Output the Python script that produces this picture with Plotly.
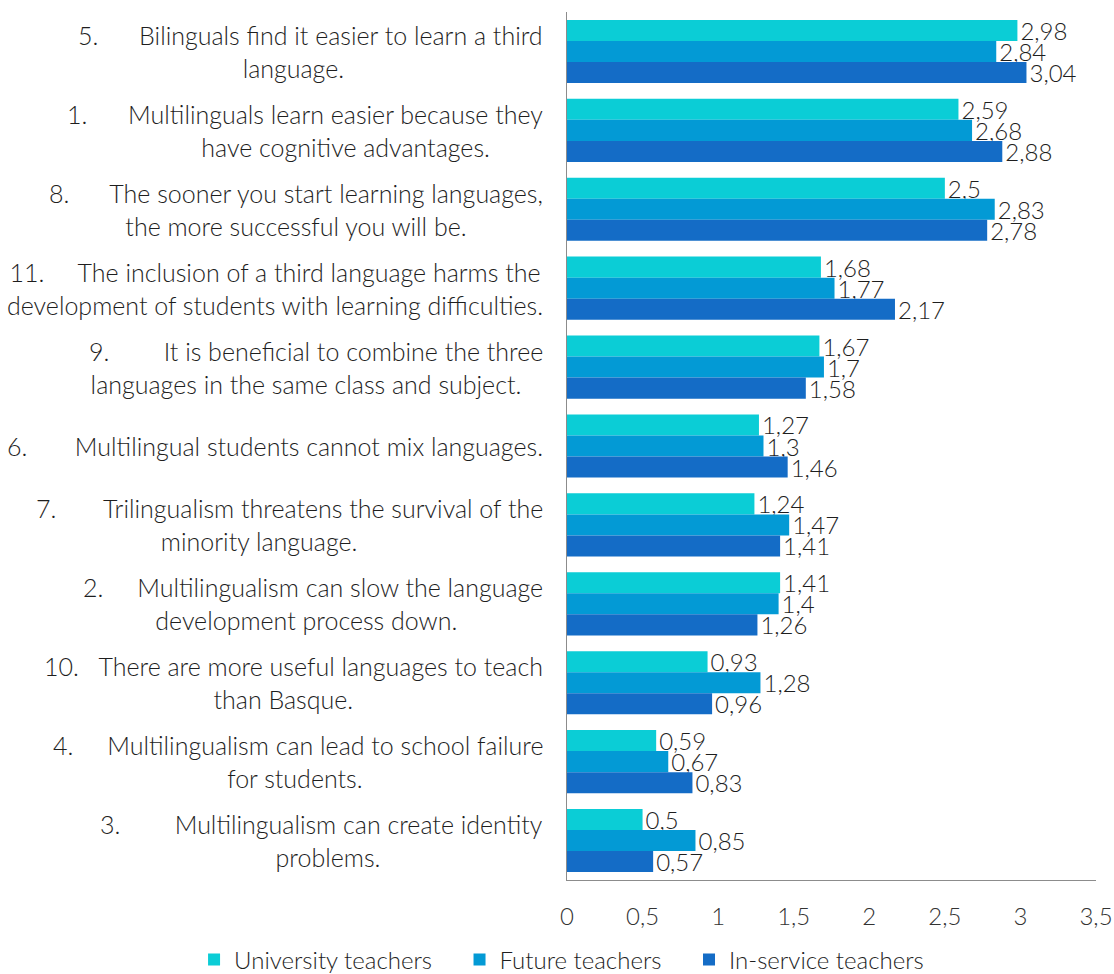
import plotly.graph_objects as go

NB = "\u00a0"
THIN = "\u2009"

# Statements, top to bottom as drawn
item_numbers = ["5.", "1.", "8.", "11.", "9.", "6.", "7.", "2.", "10.", "4.", "3."]
item_lines = [
    ["Bilinguals find it easier to learn a third", "language."],
    ["Multilinguals learn easier because they", "have cognitive advantages."],
    ["The sooner you start learning languages,", "the more successful you will be."],
    ["The inclusion of a third language harms the", "development of students with learning difficulties."],
    ["It is beneficial to combine the three", "languages in the same class and subject."],
    ["Multilingual students cannot mix languages."],
    ["Trilingualism threatens the survival of the", "minority language."],
    ["Multilingualism can slow the language", "development process down."],
    ["There are more useful languages to teach", "than Basque."],
    ["Multilingualism can lead to school failure", "for students."],
    ["Multilingualism can create identity", "problems."],
]

series_names = ["University teachers", "Future teachers", "In-service teachers"]
university = [2.98, 2.59, 2.50, 1.68, 1.67, 1.27, 1.24, 1.41, 0.93, 0.59, 0.50]
future = [2.84, 2.68, 2.83, 1.77, 1.70, 1.30, 1.47, 1.40, 1.28, 0.67, 0.85]
inservice = [3.04, 2.88, 2.78, 2.17, 1.58, 1.46, 1.41, 1.26, 0.96, 0.83, 0.57]
series_values = [university, future, inservice]

x_ticks = [0, 0.5, 1, 1.5, 2, 2.5, 3, 3.5]

# Styling
series_colors = ["#0BCDD6", "#039AD5", "#146CC6"]
FONT = "Lato"
TEXT = "#1E1E1E"
LABEL_SIZE = 24
CAT_SIZE = 25
WEIGHT = 300
# tab stop after each item number, in non-breaking spaces
tab_width = [6, 6, 6, 5, 8, 7, 7, 5, 3, 5, 8]
# nudge of the wrapped second line (positive: right, negative: left), in spaces
wrap_nudge = [-5, 12, 0, 0, -3, 0, -9, -2, -3, -1, 2]
# extra room after each legend entry
legend_pad = NB * 3 + THIN

categories = [f"item{i}" for i in range(len(item_numbers))]


def fmt(v):
    s = f"{v:.2f}".rstrip("0").rstrip(".")
    return s.replace(".", ",")


fig = go.Figure()
for i, (name, vals, col) in enumerate(zip(series_names, series_values, series_colors)):
    pad = legend_pad if i < len(series_names) - 1 else ""
    fig.add_trace(go.Bar(
        y=categories, x=vals, name=name + pad, orientation="h",
        marker=dict(color=col, line=dict(width=0)),
        text=[fmt(v) for v in vals], textposition="outside",
        textfont=dict(family=FONT, size=LABEL_SIZE, color=TEXT, weight=WEIGHT),
        constraintext="none", cliponaxis=False,
    ))

# Category labels: first line right-aligned to the axis, continuation centred under it
for cat, num, tab, nudge, lines in zip(categories, item_numbers, tab_width, wrap_nudge, item_lines):
    out = [num + NB * tab + lines[0]]
    if len(lines) > 1:
        second = lines[1]
        if nudge > 0:
            second = NB * nudge + second
        elif nudge < 0:
            second = second + NB * (-nudge)
        out.append(second)
    fig.add_annotation(
        x=0, y=cat, xref="x", yref="y", text="<br>".join(out), showarrow=False,
        xanchor="right", yanchor="middle", align="center", xshift=-22,
        font=dict(family=FONT, size=CAT_SIZE, color=TEXT, weight=WEIGHT),
    )

fig.update_layout(
    width=1114, height=974,
    margin=dict(l=567, r=18, t=12, b=94, autoexpand=False),
    paper_bgcolor="white", plot_bgcolor="white",
    barmode="group", bargap=0.2, bargroupgap=0,
    font=dict(family=FONT, size=LABEL_SIZE, color=TEXT, weight=WEIGHT),
    legend=dict(
        orientation="h", x=-0.705, xanchor="left", xref="paper",
        y=-0.066, yanchor="top", yref="paper",
        font=dict(family=FONT, size=LABEL_SIZE, color=TEXT, weight=WEIGHT),
        itemwidth=30, traceorder="normal",
    ),
    showlegend=True,
)
fig.update_xaxes(
    range=[0, 3.5], tickvals=x_ticks, ticktext=[fmt(t) for t in x_ticks],
    showgrid=False, zeroline=False, showline=True, linecolor="#8C8C8C", linewidth=1,
    ticks="", ticklabelstandoff=15,
    tickfont=dict(family=FONT, size=LABEL_SIZE, color="#333333", weight=WEIGHT),
)
fig.update_yaxes(
    autorange="reversed", showticklabels=False, showgrid=False, zeroline=False,
    showline=True, linecolor="#8C8C8C", linewidth=1, ticks="",
)

fig.write_html("out.html")
